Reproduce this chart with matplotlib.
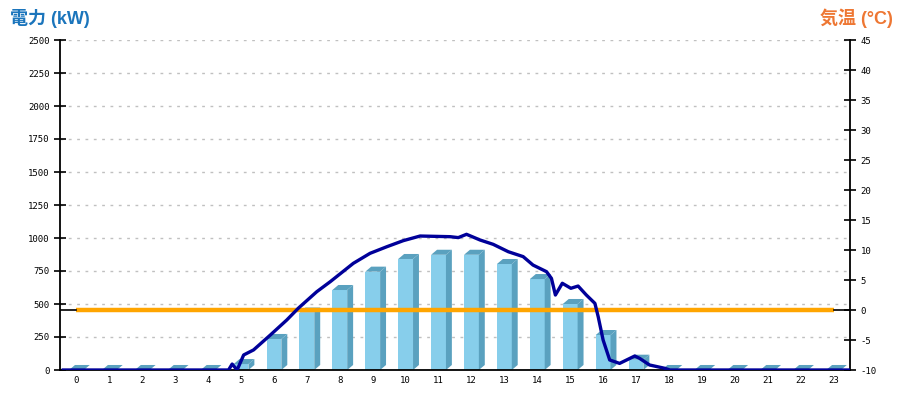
import matplotlib
matplotlib.use('Agg')
import matplotlib.pyplot as plt
from matplotlib.patches import Polygon

# ---- data ----
hours = list(range(24))
hour_labels = [str(h) for h in hours]
bar_kw = [0, 0, 0, 0, 0, 45, 235, 435, 606, 745, 841, 873,
          873, 803, 689, 500, 265, 78, 0, 0, 0, 0, 0, 0]
temp_c = [0, 0, 0, 0, 0, 0, 0, 0, 0, 0, 0, 0,
          0, 0, 0, 0, 0, 0, 0, 0, 0, 0, 0, 0]
line_h = [-0.4, 4.62, 4.73, 4.88, 5.08, 5.38, 5.89, 6.39, 6.74, 7.30, 7.71,
          8.41, 8.92, 9.43, 9.93, 10.44, 11.35, 11.60, 11.85, 12.26, 12.66,
          13.12, 13.57, 13.87, 14.28, 14.43, 14.55, 14.76, 15.02, 15.24,
          15.49, 15.75, 15.85, 16.00, 16.20, 16.50, 16.96, 17.11, 17.41,
          17.87, 18.03, 23.45]
line_kw = [0, 0, 45, 0, 114, 152, 265, 379, 468, 593, 669,
           808, 884, 934, 980, 1015, 1010, 1003, 1028, 985, 952,
           896, 859, 795, 745, 694, 568, 657, 619, 636,
           568, 505, 404, 227, 76, 50, 106, 88, 38,
           13, 0, 0]
left_ticks = [0, 250, 500, 750, 1000, 1250, 1500, 1750, 2000, 2250, 2500]
right_ticks = [-10, -5, 0, 5, 10, 15, 20, 25, 30, 35, 40, 45]

# ---- styles ----
FRONT = '#87CEEB'
SIDE = '#5AA1BF'
BAR_W = 0.45
DEP_X = 0.18
DEP_Y = 38

fig = plt.figure(figsize=(9, 4), dpi=100)
ax = fig.add_axes([60 / 900, 30 / 400, 790 / 900, 330 / 400])
ax.set_xlim(-0.5, 23.5)
ax.set_ylim(0, 2500)
ax2 = ax.twinx()
ax2.set_ylim(-10, 45)

# 3D-looking bars
for h, v in zip(hours, bar_kw):
    x0, x1 = h - BAR_W / 2, h + BAR_W / 2
    if v > 0:
        ax.add_patch(Polygon([(x0, 0), (x1, 0), (x1, v), (x0, v)],
                             closed=True, facecolor=FRONT, edgecolor='none', zorder=2))
        ax.add_patch(Polygon([(x1, 0), (x1 + DEP_X, DEP_Y), (x1 + DEP_X, v + DEP_Y), (x1, v)],
                             closed=True, facecolor=SIDE, edgecolor='none', zorder=2))
    ax.add_patch(Polygon([(x0, v), (x1, v), (x1 + DEP_X, v + DEP_Y), (x0 + DEP_X, v + DEP_Y)],
                         closed=True, facecolor=SIDE, edgecolor='none', zorder=2))

# grid
ax.set_yticks(left_ticks)
ax.yaxis.grid(True, color='#c0c0c0', linestyle=(0, (2, 4)), linewidth=1)
ax.set_axisbelow(True)

# temperature line (right axis)
ax2.plot(hours, temp_c, color='#FFA500', linewidth=3.2, solid_capstyle='butt', zorder=2)
ax2.plot([-0.5, hours[0]], [temp_c[0], temp_c[0]], color='black', linewidth=1.2, zorder=2)
ax2.plot([hours[-1], 23.5], [temp_c[-1], temp_c[-1]], color='black', linewidth=1.2, zorder=2)

# power line (left axis scale), drawn on top
ax2.plot(line_h, line_kw, color='#000099', linewidth=2.4, transform=ax.transData,
         zorder=3, solid_joinstyle='round')

# axes styling
for a in (ax, ax2):
    a.spines['top'].set_visible(False)
ax2.spines['left'].set_visible(False)
ax2.spines['bottom'].set_visible(False)
ax.spines['right'].set_visible(False)
for s in ('left', 'bottom'):
    ax.spines[s].set_linewidth(1.3)
ax2.spines['right'].set_linewidth(1.3)

tick_font = dict(family='DejaVu Sans Mono', size=6.5)
ax.set_yticks(left_ticks)
ax.set_yticklabels([str(t) for t in left_ticks], fontdict=tick_font)
ax.tick_params(axis='y', direction='inout', length=9, width=1.2, pad=3)
ax2.set_yticks(right_ticks)
ax2.set_yticklabels([str(t) for t in right_ticks], fontdict=tick_font)
ax2.tick_params(axis='y', direction='inout', length=9, width=1.2, pad=3)
ax.set_xticks(hours)
ax.set_xticklabels(hour_labels, fontdict=tick_font)
ax.tick_params(axis='x', length=0, pad=4)

# titles
fam = ['Liberation Sans', 'Noto Sans CJK JP']
fig.text(10 / 900, 1 - 18 / 400, '電力 (kW)', color='#1B75BC', fontsize=13,
         fontweight='bold', family=fam, ha='left', va='center')
fig.text(893 / 900, 1 - 18 / 400, '気温 (°C)', color='#EE7733', fontsize=13,
         fontweight='bold', family=fam, ha='right', va='center')

fig.savefig('out.png', dpi=100)
